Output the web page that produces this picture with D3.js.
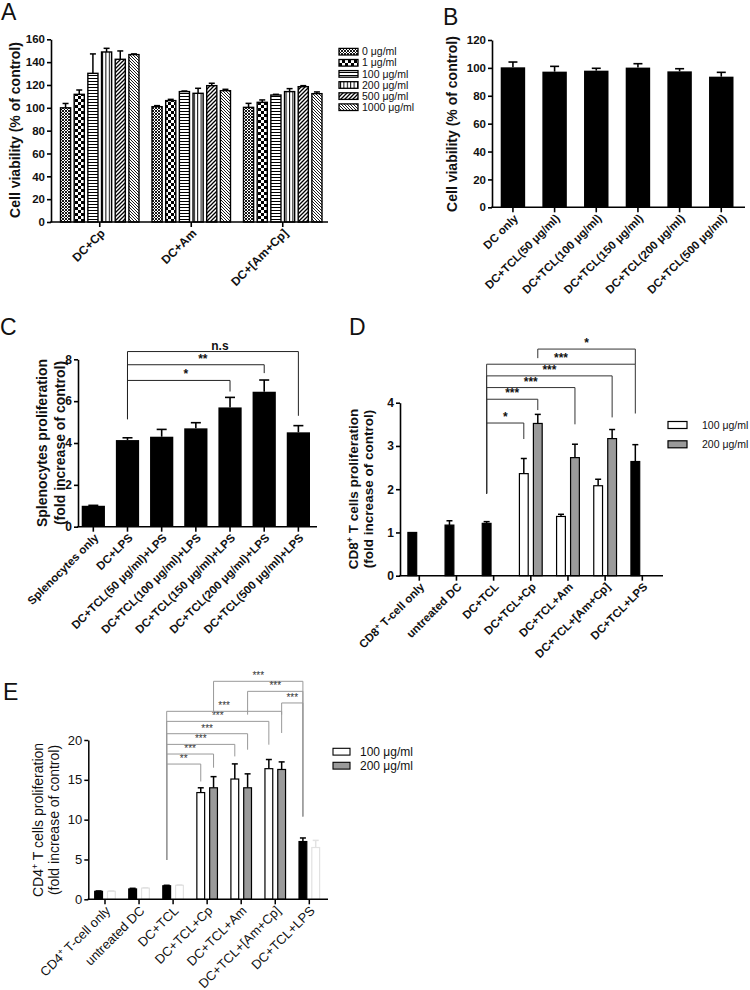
<!DOCTYPE html>
<html><head><meta charset="utf-8">
<script src="https://cdn.jsdelivr.net/npm/d3@7"></script>
<style>body{margin:0;background:#fff} svg{display:block} text{font-family:Arial,"Liberation Sans",sans-serif;fill:#111}</style>
</head><body><svg id="c" width="750" height="990"></svg>
<script>
// ---------- DATA ----------
const catsA = ["DC+Cp", "DC+Am", "DC+[Am+Cp]"];
const dosesA = ["0 μg/ml", "1 μg/ml", "100 μg/ml", "200 μg/ml", "500 μg/ml", "1000 μg/ml"];
const meanA = [[100, 111.8, 130.2, 148.9, 142.5, 146.6], [101, 106.3, 114.2, 112.7, 119.4, 115], [100.4, 104.8, 111.2, 114.2, 118.5, 112.4]];
const semA = [[3.8, 3.8, 17, 3.2, 7.3, 0.6], [0.9, 1.1, 0.5, 4.4, 2.1, 1.2], [3.5, 2.1, 0.6, 2.6, 0.9, 1.5]];
const ticksA = [0, 20, 40, 60, 80, 100, 120, 140, 160];

const catsB = ["DC only", "DC+TCL(50 μg/ml)", "DC+TCL(100 μg/ml)", "DC+TCL(150 μg/ml)", "DC+TCL(200 μg/ml)", "DC+TCL(500 μg/ml)"];
const meanB = [100.4, 97.3, 98, 100.2, 97.5, 93.7];
const semB = [3.8, 3.8, 1.7, 2.8, 1.9, 3.1];
const ticksB = [0, 20, 40, 60, 80, 100, 120];

const catsC = ["Splenocytes only", "DC+LPS", "DC+TCL(50 μg/ml)+LPS", "DC+TCL(100 μg/ml)+LPS", "DC+TCL(150 μg/ml)+LPS", "DC+TCL(200 μg/ml)+LPS", "DC+TCL(500 μg/ml)+LPS"];
const meanC = [1.0, 4.14, 4.3, 4.7, 5.7, 6.45, 4.51];
const semC = [0.02, 0.11, 0.35, 0.27, 0.48, 0.56, 0.32];
const ticksC = [0, 2, 4, 6, 8];
const bracketsC = [
  {a: 1, b: 4, y: 6.99, ya: 5.14, yb: 6.46, label: "*"},
  {a: 1, b: 5, y: 7.74, ya: 5.14, yb: 7.34, label: "**"},
  {a: 1, b: 6, y: 8.37, ya: 5.14, yb: 5.3, label: "n.s"}
];

const seriesDE = ["100 μg/ml", "200 μg/ml"];
const catsD = ["CD8+ T-cell only", "untreated DC", "DC+TCL", "DC+TCL+Cp", "DC+TCL+Am", "DC+TCL+[Am+Cp]", "DC+TCL+LPS"];
const kindD = ["control", "control", "control", "dose", "dose", "dose", "control"];
const meanD100 = [1.0, 1.17, 1.21, 2.36, 1.37, 2.08, 2.64];
const semD100 = [0, 0.1, 0.04, 0.35, 0.05, 0.15, 0.39];
const meanD200 = [null, null, null, 3.52, 2.73, 3.17, null];
const semD200 = [null, null, null, 0.21, 0.31, 0.21, null];
const ticksD = [0, 1, 2, 3, 4];
const bracketsD = [
  {a: [2, 0], b: [3, 0], y: 3.53, ya: 1.9, yb: 3.16, label: "*"},
  {a: [2, 0], b: [3, 1], y: 4.08, ya: 1.9, yb: 3.83, label: "***"},
  {a: [2, 0], b: [4, 1], y: 4.35, ya: 1.9, yb: 3.5, label: "***"},
  {a: [2, 0], b: [5, 1], y: 4.62, ya: 1.9, yb: 3.66, label: "***"},
  {a: [2, 0], b: [6, 0], y: 4.89, ya: 1.9, yb: 3.75, label: "***"},
  {a: [3, 1], b: [6, 0], y: 5.24, ya: 5.03, yb: 4.89, label: "*"}
];

const catsE = ["CD4+ T-cell only", "untreated DC", "DC+TCL", "DC+TCL+Cp", "DC+TCL+Am", "DC+TCL+[Am+Cp]", "DC+TCL+LPS"];
const kindE = ["control", "control", "control", "dose", "dose", "dose", "control"];
const meanE100 = [1.0, 1.3, 1.7, 13.4, 15.1, 16.4, 7.25];
const semE100 = [0.05, 0.08, 0.06, 0.6, 1.9, 1.15, 0.45];
const meanE200 = [1.0, 1.4, 1.75, 14.0, 14.0, 16.3, 6.5];
const semE200 = [0.05, 0.05, 0.05, 1.4, 1.75, 0.95, 0.9];
const ticksE = [0, 5, 10, 15, 20];
const bracketsE = [
  {a: [2, 0], b: [3, 0], y: 16.98, ya: 4.94, yb: 14.79, label: "**"},
  {a: [2, 0], b: [3, 1], y: 18.24, ya: 4.94, yb: 16.52, label: "***"},
  {a: [2, 0], b: [4, 0], y: 19.45, ya: 4.94, yb: 17.94, label: "***"},
  {a: [2, 0], b: [4, 1], y: 20.79, ya: 4.94, yb: 18.78, label: "***"},
  {a: [2, 0], b: [5, 0], y: 22.34, ya: 4.94, yb: 19.41, label: "***"},
  {a: [2, 0], b: [5, 1], y: 23.6, ya: 4.94, yb: 20.88, label: "***"},
  {a: [3, 1], b: [6, 0], y: 27.37, ya: 23.18, yb: 10.39, label: "***"},
  {a: [4, 1], b: [6, 0], y: 26.11, ya: 23.18, yb: 10.39, label: "***"},
  {a: [5, 1], b: [6, 0], y: 24.65, ya: 23.18, yb: 10.39, label: "***"}
];

// ---------- HELPERS ----------
const svg = d3.select("#c");
const FONT = 'Arial,"Liberation Sans",sans-serif';

const defs = svg.append("defs");
function pat(id, w, h, build) {
  const p = defs.append("pattern").attr("id", id).attr("patternUnits", "userSpaceOnUse").attr("width", w).attr("height", h);
  p.append("rect").attr("width", w).attr("height", h).attr("fill", "#fff");
  build(p);
}
pat("p0", 3, 3, p => p.append("path").attr("d", "M0,0L3,3M3,0L0,3").attr("stroke", "#000").attr("stroke-width", 0.9));
pat("p1", 6, 6, p => { p.append("rect").attr("width", 3).attr("height", 3).attr("fill", "#000"); p.append("rect").attr("x", 3).attr("y", 3).attr("width", 3).attr("height", 3).attr("fill", "#000"); });
pat("p2", 4, 3, p => p.append("rect").attr("y", 0).attr("width", 4).attr("height", 1).attr("fill", "#000"));
pat("p3", 3.4, 4, p => p.append("rect").attr("x", 0).attr("width", 1).attr("height", 4).attr("fill", "#000"));
pat("p4", 4, 4, p => p.append("path").attr("d", "M-1,1L1,-1M0,4L4,0M3,5L5,3").attr("stroke", "#000").attr("stroke-width", 1.3));
pat("p5", 3, 3, p => p.append("path").attr("d", "M0,0L3,3M-1,2L1,4M2,-1L4,1").attr("stroke", "#000").attr("stroke-width", 0.9));
const patIds = ["p0", "p1", "p2", "p3", "p4", "p5"];

function labelText(sel, str) {
  const m = str.match(/^(CD\d)\+(.*)$/);
  if (m) {
    sel.append("tspan").text(m[1]);
    sel.append("tspan").attr("baseline-shift", "super").attr("font-size", "65%").text("+");
    sel.append("tspan").text(m[2]);
  } else sel.text(str);
}

function letter(t, x, y) {
  svg.append("text").attr("x", x).attr("y", y).attr("font-size", 23).text(t);
}

function yAxis(y, x0, ticks, weight, fs, sw) {
  const g = svg.append("g").attr("transform", `translate(${x0},0)`)
    .call(d3.axisLeft(y).tickValues(ticks).tickSize(4).tickSizeOuter(0).tickPadding(2).tickFormat(d3.format("d")));
  g.selectAll("path,line").attr("stroke", "#000").attr("stroke-width", sw);
  g.selectAll("text").attr("font-family", FONT).attr("font-size", fs).attr("font-weight", weight).attr("fill", "#111");
}

function xAxis(x, cats, x0, x1, yB, weight, fs, sw, dx, dy) {
  const g = svg.append("g");
  g.append("line").attr("x1", x0 - sw / 2).attr("x2", x1).attr("y1", yB).attr("y2", yB).attr("stroke", "#000").attr("stroke-width", sw);
  cats.forEach(c => {
    const cx = x(c) + x.bandwidth() / 2;
    g.append("line").attr("x1", cx).attr("x2", cx).attr("y1", yB).attr("y2", yB + 5).attr("stroke", "#000").attr("stroke-width", sw);
    const t = g.append("text").attr("transform", `translate(${cx + dx},${yB + dy}) rotate(-45)`)
      .attr("text-anchor", "end").attr("dy", "0.35em").attr("font-size", fs).attr("font-weight", weight);
    labelText(t, c);
  });
}

function yTitle(lines, xs, yc, fs, weight) {
  lines.forEach((l, i) => {
    const t = svg.append("text").attr("transform", `translate(${xs[i]},${yc}) rotate(-90)`)
      .attr("text-anchor", "middle").attr("dy", "0.35em").attr("font-size", fs).attr("font-weight", weight);
    labelText(t, l);
  });
}

function errBar(cx, yTop, yErr, cap, color, sw) {
  svg.append("line").attr("x1", cx).attr("x2", cx).attr("y1", yTop).attr("y2", yErr).attr("stroke", color).attr("stroke-width", sw);
  svg.append("line").attr("x1", cx - cap / 2).attr("x2", cx + cap / 2).attr("y1", yErr).attr("y2", yErr).attr("stroke", color).attr("stroke-width", sw);
}

function bracket(xa, xb, y, ya, yb, label, color, tcolor, fs, weight, ldx) {
  svg.append("path").attr("d", `M${xa},${ya}V${y}H${xb}V${yb}`).attr("fill", "none").attr("stroke", color).attr("stroke-width", 1);
  svg.append("text").attr("x", (xa + xb) / 2 + ldx).attr("y", y - 2).attr("text-anchor", "middle")
    .attr("font-size", fs).attr("font-weight", weight).style("fill", tcolor).text(label);
}

// ---------- PANEL A ----------
letter("A", 1, 20);
{
  const x0 = 51, x1 = 328, yB = 222, yT = 39.3;
  const y = d3.scaleLinear().domain([0, 160]).range([yB, yT]);
  const x = d3.scaleBand().domain(catsA).range([60.5, 322]).paddingInner(0.142).paddingOuter(0);
  const xi = d3.scaleBand().domain(dosesA).range([0, x.bandwidth()]).paddingInner(0.26).paddingOuter(0);
  catsA.forEach((c, i) => dosesA.forEach((d, j) => {
    const bx = x(c) + xi(d), v = meanA[i][j];
    errBar(bx + xi.bandwidth() / 2, y(v), y(v + semA[i][j]), 6, "#000", 1.5);
    svg.append("rect").attr("x", bx).attr("y", y(v)).attr("width", xi.bandwidth()).attr("height", yB - y(v))
      .attr("fill", `url(#${patIds[j]})`).attr("stroke", "#000").attr("stroke-width", 1.4);
  }));
  yAxis(y, x0, ticksA, "bold", 11.5, 1.6);
  xAxis(x, catsA, x0, x1, yB, "bold", 12, 1.6, 3, 9);
  yTitle(["Cell viability (% of control)"], [15], 130, 14, "bold");
  // legend
  dosesA.forEach((d, j) => {
    const cy = 51.7 + j * 11.1;
    svg.append("rect").attr("x", 339).attr("y", cy - 3.3).attr("width", 19).attr("height", 6.6)
      .attr("fill", `url(#${patIds[j]})`).attr("stroke", "#000").attr("stroke-width", 1.3);
    svg.append("text").attr("x", 362).attr("y", cy).attr("dy", "0.35em").attr("font-size", 10.5).text(d);
  });
}

// ---------- PANEL B ----------
letter("B", 443, 25);
{
  const x0 = 492, x1 = 745, yB = 207.3, yT = 40;
  const y = d3.scaleLinear().domain([0, 120]).range([yB, yT]);
  const x = d3.scaleBand().domain(catsB).range([500.7, 733.5]).paddingInner(0.413).paddingOuter(0);
  catsB.forEach((c, i) => {
    const v = meanB[i];
    errBar(x(c) + x.bandwidth() / 2, y(v), y(v + semB[i]), 9, "#000", 1.6);
    svg.append("rect").attr("x", x(c)).attr("y", y(v)).attr("width", x.bandwidth()).attr("height", yB - y(v)).attr("fill", "#000");
  });
  yAxis(y, x0, ticksB, "bold", 11.5, 1.6);
  xAxis(x, catsB, x0, x1, yB, "bold", 11.5, 1.6, 3, 9);
  yTitle(["Cell viability (% of control)"], [452], 124, 14, "bold");
}

// ---------- PANEL C ----------
letter("C", 0, 335);
{
  const x0 = 78, x1 = 317, yB = 526.7, yT = 359.3;
  const y = d3.scaleLinear().domain([0, 8]).range([yB, yT]);
  const x = d3.scaleBand().domain(catsC).range([81.7, 310]).paddingInner(0.32).paddingOuter(0);
  catsC.forEach((c, i) => {
    const v = meanC[i];
    errBar(x(c) + x.bandwidth() / 2, y(v), y(v + semC[i]), 10, "#000", 1.6);
    svg.append("rect").attr("x", x(c)).attr("y", y(v)).attr("width", x.bandwidth()).attr("height", yB - y(v)).attr("fill", "#000");
  });
  yAxis(y, x0, ticksC, "bold", 12, 1.6);
  xAxis(x, catsC, x0, x1, yB, "bold", 11.5, 1.6, 3, 9);
  yTitle(["Splenocytes proliferation", "(fold increase of control)"], [42, 60], 443, 14, "bold");
  bracketsC.forEach(b => {
    const cx = i => x(catsC[i]) + x.bandwidth() / 2;
    bracket(cx(b.a), cx(b.b), y(b.y), y(b.ya), y(b.yb), b.label, "#222", "#111", 12, "bold", 7);
  });
}

// ---------- grouped panels D & E ----------
function grouped(cfg) {
  const {cats, kind, m100, s100, m200, s200, x0, x1, yB, yT, max, ticks, r0, r1, pi, ipi,
    weight, tfs, lfs, sw, ghost, cap, brackets, bcolor, tcolor, bfs, bweight} = cfg;
  const y = d3.scaleLinear().domain([0, max]).range([yB, yT]);
  const x = d3.scaleBand().domain(cats).range([r0, r1]).paddingInner(pi).paddingOuter(0);
  const xi = d3.scaleBand().domain(seriesDE).range([0, x.bandwidth()]).paddingInner(ipi).paddingOuter(0);
  const bw = xi.bandwidth();
  const cxOf = (ci, si) => x(cats[ci]) + xi(seriesDE[si]) + bw / 2;
  cats.forEach((c, i) => {
    [[m100, s100], [m200, s200]].forEach(([m, s], si) => {
      const v = m[i];
      if (v == null) return;
      let fill, stroke, ecol;
      if (kind[i] === "control") {
        if (si === 0) { fill = "#000"; stroke = "#000"; ecol = "#000"; }
        else if (ghost) { fill = "#fff"; stroke = "#e2e2e2"; ecol = "#e2e2e2"; }
        else return;
      } else { fill = si === 0 ? "#fff" : "#9a9a9a"; stroke = "#000"; ecol = "#000"; }
      const bx = x(c) + xi(seriesDE[si]);
      if (s[i]) errBar(bx + bw / 2, y(v), y(v + s[i]), cap, ecol, 1.5);
      svg.append("rect").attr("x", bx + 0.6).attr("y", y(v)).attr("width", bw - 1.2).attr("height", yB - y(v))
        .attr("fill", fill).attr("stroke", stroke).attr("stroke-width", 1.2);
    });
  });
  yAxis(y, x0, ticks, weight, tfs, sw);
  xAxis(x, cats, x0, x1, yB, weight, lfs, sw, 3, 9);
  brackets.forEach(b => {
    bracket(cxOf(b.a[0], b.a[1]), cxOf(b.b[0], b.b[1]), y(b.y), y(b.ya), y(b.yb), b.label, bcolor, tcolor, bfs, bweight, 0);
  });
  return {x, y};
}

letter("D", 349, 335);
grouped({cats: catsD, kind: kindD, m100: meanD100, s100: semD100, m200: meanD200, s200: semD200,
  x0: 400, x1: 663, yB: 575.7, yT: 402.7, max: 4, ticks: ticksD, r0: 407.3, r1: 654.3, pi: 0.355, ipi: 0.286,
  weight: "bold", tfs: 12, lfs: 11.5, sw: 1.6, ghost: false, cap: 6, brackets: bracketsD, bcolor: "#333", tcolor: "#111", bfs: 12, bweight: "bold"});
yTitle(["CD8+ T cells proliferation", "(fold increase of control)"], [353, 368], 489, 13.5, "bold");
[["#fff"], ["#9a9a9a"]].forEach(([f], j) => {
  const cy = 425 + j * 19.3;
  svg.append("rect").attr("x", 668).attr("y", cy - 3.5).attr("width", 19).attr("height", 7).attr("fill", f).attr("stroke", "#000").attr("stroke-width", 1.2);
  svg.append("text").attr("x", 702).attr("y", cy).attr("dy", "0.35em").attr("font-size", 10.5).text(seriesDE[j]);
});

letter("E", 3, 700);
grouped({cats: catsE, kind: kindE, m100: meanE100, s100: semE100, m200: meanE200, s200: semE200,
  x0: 88.3, x1: 328, yB: 899.3, yT: 740, max: 20, ticks: ticksE, r0: 94.1, r1: 320.2, pi: 0.36, ipi: 0.297,
  weight: "normal", tfs: 13, lfs: 13, sw: 1.5, ghost: true, cap: 6, brackets: bracketsE, bcolor: "#999", tcolor: "#333", bfs: 10, bweight: "normal"});
yTitle(["CD4+ T cells proliferation", "(fold increase of control)"], [38.5, 54], 820, 14, "normal");
[["#fff"], ["#9a9a9a"]].forEach(([f], j) => {
  const cy = 751.7 + j * 14;
  svg.append("rect").attr("x", 333).attr("y", cy - 3.4).attr("width", 17).attr("height", 6.8).attr("fill", f).attr("stroke", "#000").attr("stroke-width", 1.1);
  svg.append("text").attr("x", 360).attr("y", cy).attr("dy", "0.35em").attr("font-size", 12).text(seriesDE[j]);
});
</script></body></html>
